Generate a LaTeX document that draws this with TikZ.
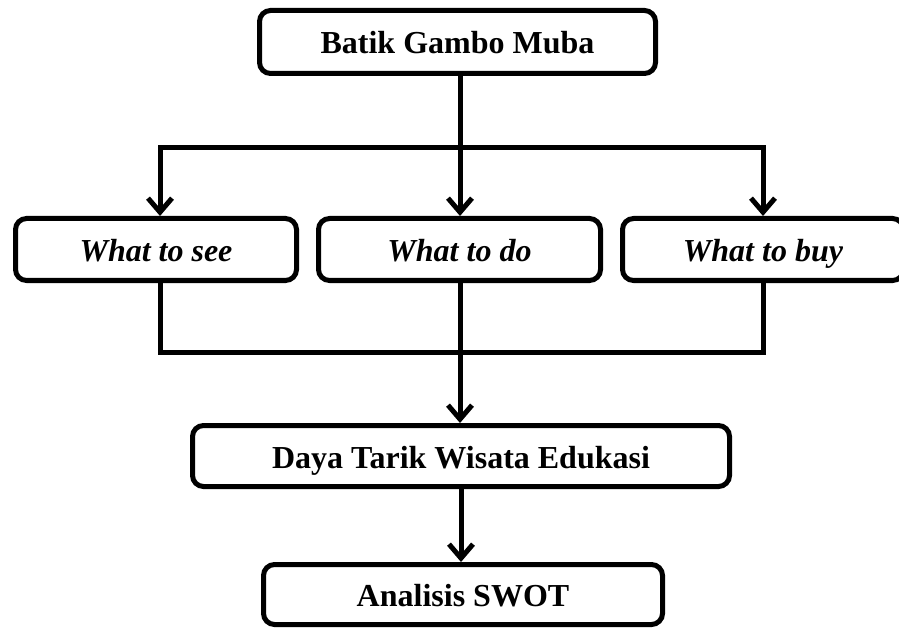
\documentclass[tikz,border=0pt]{standalone}
\usepackage{fontspec}
\setmainfont{Liberation Serif}
\usetikzlibrary{arrows.meta}
\begin{document}
\begin{tikzpicture}[x=1pt,y=-1pt,
  box/.style={draw, line width=5pt, rounded corners=11pt, inner sep=0pt,
    text height=24pt, text depth=-2pt,
    font=\fontsize{32}{36}\selectfont\bfseries},
  ibox/.style={box, font=\fontsize{32}{36}\selectfont\bfseries\itshape},
  conn/.style={line width=5pt, line cap=rect},
  arr/.style={line width=5pt, -{Straight Barb[length=14pt,width=24pt]}}
]
\useasboundingbox (0,0) rectangle (899,628);
\clip (0,0) rectangle (899,628);

\node[box, minimum width=396pt, minimum height=63pt] (top) at (457.5,42) {Batik Gambo Muba};
\node[ibox, minimum width=281pt, minimum height=62pt] (s1) at (156,249.5) {What to see};
\node[ibox, minimum width=282pt, minimum height=62pt] (s2) at (459.5,249.5) {What to do};
\node[ibox, minimum width=281pt, minimum height=62pt] (s3) at (763,249.5) {What to buy};
\node[box, minimum width=537pt, minimum height=61pt] (daya) at (461,456) {Daya Tarik Wisata Edukasi};
\node[box, minimum width=399pt, minimum height=60pt] (swot) at (463,594.5) {Analisis SWOT};

\coordinate (tl) at (160,148);
\coordinate (tm) at (460,148);
\coordinate (tr) at (763,148);
\coordinate (bl) at (160,352);
\coordinate (bm) at (460,352);
\coordinate (br) at (763,352);

\draw[conn] (top.south -| tm) -- (tm);
\draw[conn] (tl) -- (tr);
\draw[arr] (tl) -- (tl |- s1.north);
\draw[arr] (tm) -- (tm |- s2.north);
\draw[arr] (tr) -- (tr |- s3.north);

\draw[conn] (bl |- s1.south) -- (bl) -- (br) -- (br |- s3.south);
\draw[arr] (bm |- s2.south) -- (bm |- daya.north);
\draw[arr] (daya.south) -- (daya.south |- swot.north);
\end{tikzpicture}
\end{document}
